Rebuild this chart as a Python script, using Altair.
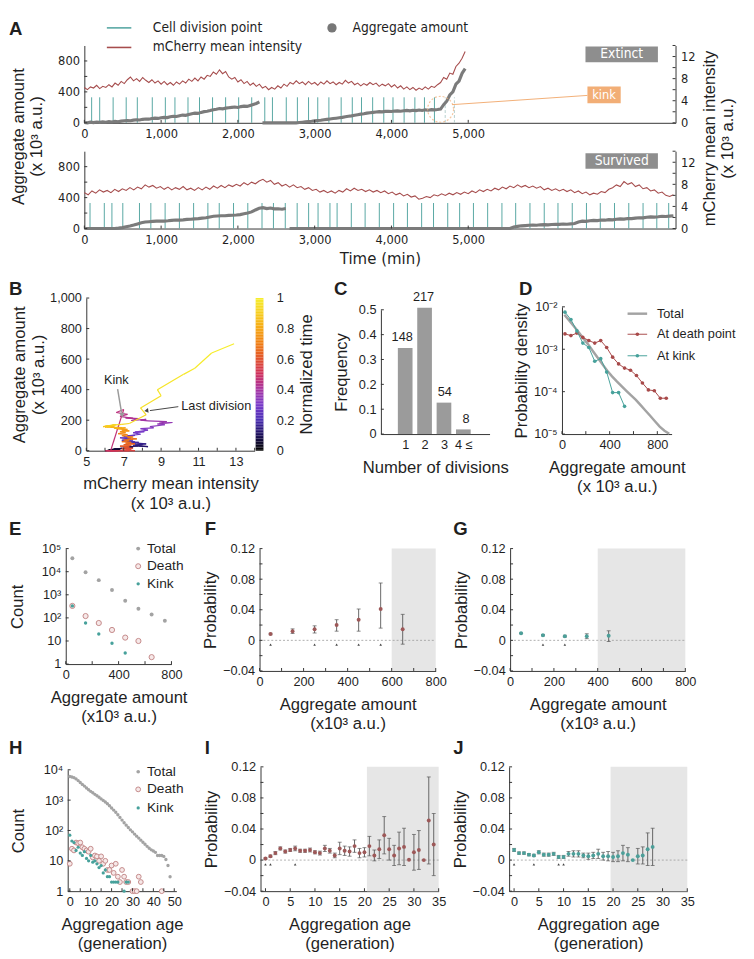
import altair as alt
import pandas as pd
import numpy as np

W, H = 754, 951
FONT = "Liberation Sans, Arial, Helvetica, sans-serif"
NARROW = "Liberation Sans Narrow, DejaVu Sans Condensed, Liberation Sans, Arial, sans-serif"
INK = "#1f1f1f"
AXC = "#333333"
TEAL = "#57a7a3"
RED = "#a64d4d"
AGG = "#7b7b7b"
DEATH = "#a84a4a"
KINK = "#47a19b"
TOTAL = "#a3a3a3"
PROB_RED = "#9d5858"
PROB_TEAL = "#4c9f99"
SHADE = "#e6e6e6"
ORANGE = "#f2ae76"

# ------------------------------------------------------------------ data: panel A
T_MAX = 7700          # right end of the time axis (min)
STEP_TOP = 40         # sampling interval, extinct lineage (min)
STEP_BOT = 49.5       # sampling interval, surviving lineage (min)
red_top = [6.4, 6.0, 6.5, 6.3, 6.8, 6.2, 6.6, 6.4, 6.9, 6.5,
           7.2, 6.8, 7.5, 7.1, 7.8, 8.3, 7.6, 8.0, 7.5, 8.2,
           7.7, 7.3, 7.8, 7.2, 7.6, 7.0, 7.5, 6.9, 7.3, 6.8,
           7.4, 7.0, 7.6, 7.2, 7.9, 7.5, 8.1, 7.6, 8.3, 7.9,
           8.6, 8.4, 9.2, 8.8, 9.6, 8.9, 9.3, 8.3, 7.9, 8.2,
           7.4, 7.8, 7.1, 7.5, 6.8, 7.2, 6.6, 7.0, 6.3, 6.6,
           6.0, 6.4, 6.1, 6.7, 6.3, 7.0, 6.6, 7.3, 7.0, 7.6,
           7.1, 7.4, 6.9, 7.5, 7.0, 7.3, 6.8, 7.4, 7.0, 7.6,
           7.1, 7.4, 6.9, 7.3, 7.0, 7.7, 7.2, 7.5, 6.9, 7.2,
           6.7, 7.1, 6.8, 7.3, 6.9, 7.2, 6.6, 7.0, 6.7, 7.1,
           6.5, 6.9, 6.3, 6.7, 6.1, 6.5, 6.0, 6.4, 5.9, 6.3,
           6.0, 6.5, 6.1, 6.6, 6.4, 6.9, 7.3, 8.2, 7.9, 9.0,
           8.8, 10.2, 10.8, 11.7, 12.9]
agg_top = [5, 0, 8, 3, 10, 6, 12, 8, 15, 11, 18, 14, 22, 26, 30,
           27, 35, 40, 36, 45, 50, 47, 55, 60, 57, 65, 70, 68, 78, 85,
           82, 92, 100, 97, 108, 118, 125, 122, 135, 145, 150, 158, 170, 175, 185,
           180, 190, 195, 200, 205, 198, 210, 215, 212, 225, 238, 250, 270,
           0, 0, 0, 0, 0, 0, 0, 0, 0, 0, 0, 0,
           4, 8, 12, 16, 20, 25, 30, 34, 40, 45, 50, 55, 60, 65, 70,
           78, 85, 90, 98, 105, 112, 118, 125, 130, 135, 140, 145, 142, 148, 150,
           146, 152, 155, 150, 156, 160, 155, 162, 158, 165, 160, 168, 163, 170, 168,
           172, 178, 235, 280, 360, 400, 500, 540, 640, 700]
red_bot = [6.5, 6.1, 6.8, 6.4, 7.0, 6.6, 6.9, 6.5, 7.1, 6.7,
           7.2, 6.9, 7.4, 7.0, 7.5, 7.2, 7.9, 7.5, 7.8, 7.3,
           7.6, 7.1, 7.5, 7.0, 7.4, 7.1, 7.6, 7.0, 7.3, 6.9,
           7.4, 7.0, 7.5, 7.1, 7.7, 7.3, 7.8, 7.4, 7.9, 7.6,
           8.0, 7.7, 8.3, 7.9, 8.4, 8.1, 8.6, 8.9, 8.4, 8.7,
           8.0, 8.3, 7.7, 8.0, 7.5, 7.9, 7.4, 7.6, 7.1, 7.4,
           6.9, 7.1, 6.6, 6.9, 6.5, 6.8, 6.4, 6.9, 6.6, 7.2,
           6.8, 7.3, 6.9, 7.1, 6.7, 7.0, 6.6, 6.9, 6.5, 6.8,
           6.3, 6.6, 6.1, 6.4, 5.9, 6.2, 5.7, 5.9, 5.3, 5.5,
           5.8, 5.6, 6.1, 5.9, 6.3, 6.0, 6.4, 6.1, 6.5, 6.2,
           6.6, 6.3, 6.8, 6.5, 7.0, 6.7, 7.1, 6.8, 7.3, 7.0,
           7.5, 7.2, 7.7, 7.4, 7.9, 7.5, 7.8, 7.4, 7.7, 7.3,
           7.6, 7.0, 7.3, 6.9, 7.2, 6.8, 7.1, 6.7, 7.0, 6.5,
           6.8, 6.3, 6.6, 6.1, 6.4, 6.2, 6.7, 6.5, 7.1, 7.4,
           7.9, 7.6, 8.5, 8.0, 8.3, 7.6, 7.9, 7.2, 7.4, 6.8,
           7.0, 6.4, 6.6, 6.0, 5.8, 6.1]
agg_bot = ([0, 0, 0, 0, 0, 0, 0, 0, 0,
            5, 12, 22, 32, 45, 60, 75, 85,
            88, 92, 95, 98, 96, 100, 106, 110, 108, 112, 118, 120, 125, 128, 135, 140,
            150, 158, 162, 165, 166, 170, 172, 175, 180, 190, 200, 215, 240, 262, 270, 258,
            265, 255, 255, 250, 258]
           + [0] * 59
           + [20, 28, 35, 38, 42, 45, 43, 48, 50, 47, 52, 55, 53, 58, 56, 60, 65,
              85, 95, 92, 100, 105, 103, 110, 108, 115, 112, 120, 125, 122, 130, 128,
              135, 140, 138, 145, 150, 148, 152, 158, 155, 160, 165])
div_top = [95, 200, 375, 545, 690, 885, 1055, 1180, 1350, 1500, 1670, 1840, 2010, 2180,
           2350, 2450, 2630, 2775, 2920, 3040, 3185, 3345, 3490, 3610, 3755, 3900, 4020,
           4165, 4305, 4430, 4560]
div_top_after_kink = [4700, 4820]
div_bot = [74, 260, 359, 501, 718, 866, 1052, 1238, 1423, 1609, 1757, 1943, 2129, 2314,
           2463, 2617, 2772, 2921, 3044, 3199, 3292, 3477, 3657, 3842, 4028, 4208, 4393,
           4548, 4733, 4888, 5068, 5253, 5439, 5618, 5804, 5990, 6169, 6355, 6540, 6720,
           6905, 7091, 7277, 7456, 7611]
kink_time, kink_amount = 4640, 175

# ------------------------------------------------------------------ data: C, D
div_classes = [1, 2, 3, 4]
div_counts = [148, 217, 54, 8]

d_total_x = [20, 60, 100, 140, 180, 220, 260, 300, 340, 380, 420, 460, 500, 540, 580, 620,
             660, 700, 740, 780, 820, 860, 900]
d_total_y = [6.5e-3, 4.8e-3, 3.5e-3, 2.5e-3, 1.8e-3, 1.3e-3, 9e-4, 6.3e-4, 4.4e-4, 3.1e-4,
             2.3e-4, 1.75e-4, 1.35e-4, 1.05e-4, 8.2e-5, 6.4e-5, 4.8e-5, 3.6e-5, 2.7e-5,
             2.0e-5, 1.5e-5, 1.2e-5, 1.02e-5]
d_death_x = [25, 75, 125, 175, 225, 275, 325, 375, 425, 475, 525, 575, 625, 675, 725, 775,
             825, 875]
d_death_y = [2.3e-3, 2.1e-3, 2.4e-3, 1.9e-3, 1.6e-3, 1.4e-3, 1.6e-3, 1.1e-3, 6.5e-4, 4.5e-4,
             3.6e-4, 3.2e-4, 2.4e-4, 1.6e-4, 1.1e-4, 1.05e-4, 7e-5, 7e-5]
d_kink_x = [25, 75, 125, 175, 225, 275, 325, 375, 425, 475, 525]
d_kink_y = [7.5e-3, 5e-3, 2.7e-3, 1.4e-3, 1.1e-3, 5.2e-4, 6e-4, 2.9e-4, 9.5e-5, 9.5e-5, 4.5e-5]

# ------------------------------------------------------------------ data: E, F, G
e_x = [50, 150, 250, 350, 450, 550, 650, 750]
e_total = [3.8e4, 9.5e3, 4.3e3, 1.6e3, 550, 250, 140, 75]
e_death = [330, 120, 60, 30, 14, 10, 2]
e_kink = [330, 60, 20, 8, 3]

f_x = [50, 150, 250, 350, 450, 550, 650]
f_mean = [0.0083, 0.012, 0.0146, 0.020, 0.027, 0.041, 0.0146]
f_lo = [0.0073, 0.009, 0.0096, 0.012, 0.012, 0.016, -0.005]
f_hi = [0.0093, 0.015, 0.019, 0.027, 0.041, 0.075, 0.034]
f_tri = [50, 250, 350, 450, 550]

g_x = [50, 150, 250, 350, 450]
g_mean = [0.0092, 0.0067, 0.0054, 0.0054, 0.006]
g_lo = [0.0086, 0.0058, 0.0042, 0.0022, -0.0015]
g_hi = [0.0098, 0.0076, 0.0066, 0.0086, 0.0125]
g_tri = [150, 250]

# ------------------------------------------------------------------ data: H, I, J
h_total = [6000, 5800, 5500, 5000, 4400, 3800, 3300, 2900, 2500, 2200,
           1950, 1750, 1550, 1400, 1250, 1100, 980, 870, 760, 650,
           550, 470, 400, 330, 270, 220, 180, 150, 125, 105,
           90, 76, 65, 56, 48, 41, 35, 30, 26, 23,
           21, 19, 15, 15, 15, 14, 11, 7, 3]
h_death_gen = [0, 1, 2, 3, 4, 5, 6, 7, 8, 9, 10, 11, 12, 13, 14, 15, 16, 17, 18, 19, 20, 21,
               22, 23, 24, 25, 26, 27, 28, 30, 31, 32, 33, 34, 44]
h_death = [8, 25, 22, 40, 38, 40, 28, 25, 22, 20, 25, 13, 15, 14, 10, 14, 8, 10, 5, 5, 7, 4,
           8, 3, 2, 5, 3, 2, 2, 1, 1, 1, 3, 2, 1]
h_kink_gen = [0, 1, 2, 3, 4, 5, 6, 7, 8, 9, 10, 11, 12, 13, 14, 15, 16, 17, 18, 19, 20, 21,
              22, 23, 26, 27, 28]
h_kink = [70, 45, 40, 22, 28, 18, 15, 20, 12, 10, 15, 9, 10, 8, 6, 7, 4, 5, 3, 3, 2, 2, 2, 2,
          1, 2, 2]

i_mean = [0.002, 0.005, 0.009, 0.015, 0.011, 0.013, 0.015, 0.012, 0.012, 0.013,
          0.010, 0.009, 0.015, 0.012, 0.006, 0.015, 0.012, 0.011, 0.018, 0.009,
          0.010, 0.018, 0.006, 0.014, 0.032, 0.014, 0.006, 0.015, 0.017, 0.0005,
          0.010, 0.013, 0.0, 0.051, 0.020]
i_err = [0.001, 0.0015, 0.002, 0.002, 0.002, 0.002, 0.003, 0.002, 0.002, 0.0025,
         0.002, 0.0025, 0.004, 0.003, 0.003, 0.008, 0.006, 0.006, 0.008, 0.006,
         0.006, 0.0125, 0.007, 0.012, 0.024, 0.014, 0.013, 0.021, 0.024, 0.0,
         0.023, 0.025, 0.0, 0.056, 0.04]
i_tri = [0, 1, 6]
j_mean = [0.013, 0.009, 0.009, 0.007, 0.006, 0.010, 0.007, 0.007, 0.008, 0.004,
          0.004, 0.008, 0.008, 0.008, 0.006, 0.005, 0.006, 0.008, 0.005, 0.005,
          0.004, 0.005, 0.009, 0.007, 0.0, 0.005, 0.006, 0.014, 0.017]
j_err = [0.002, 0.0015, 0.0015, 0.0015, 0.0015, 0.002, 0.002, 0.002, 0.002, 0.002,
         0.002, 0.003, 0.004, 0.004, 0.003, 0.004, 0.004, 0.006, 0.005, 0.006,
         0.006, 0.007, 0.01, 0.009, 0.0, 0.01, 0.011, 0.021, 0.024]
j_tri = [0, 4, 9, 10]

# ------------------------------------------------------------------ helpers
dummy = pd.DataFrame({"a": [0]})


def lin(domain, rng):
    return alt.Scale(domain=domain, range=rng, nice=False, zero=False)


def logsc(domain, rng):
    return alt.Scale(type="log", domain=domain, range=rng, nice=False)


def _axis(orient, offset, values, labelExpr, title=None, font=FONT, size=13,
          tpad=8, tsize=17, tfont=FONT, **extra):
    kw = dict(orient=orient, offset=offset, values=values, labelFont=font, labelFontSize=size,
              titleFont=tfont, titleFontSize=tsize, titlePadding=tpad, titleLineHeight=20,
              title=title, labelExpr=labelExpr)
    kw.update(extra)
    return alt.Axis(**kw)


def ax_bottom(b, values, labelExpr, **kw):
    return _axis("bottom", b - H, values, labelExpr, **kw)


def ax_left(l, values, labelExpr, **kw):
    return _axis("left", -l, values, labelExpr, **kw)


def ax_right(r, values, labelExpr, **kw):
    return _axis("right", r - W, values, labelExpr, **kw)


def every(step, fmt="d"):
    return f"abs(round(datum.value)) % {step} == 0 ? format(datum.value, '{fmt}') : ''"


def ticks_y(xpx, ysc, values, direction=1, length=3):
    """inward tick marks of a vertical axis placed at pixel xpx"""
    df = pd.DataFrame({"v": values})
    return alt.Chart(df).mark_rule(color=AXC, strokeWidth=1).encode(
        y=alt.Y("v:Q", scale=ysc, axis=None), x=alt.value(xpx),
        x2=alt.value(xpx + direction * length))


def ticks_x(ypx, xsc, values, length=3):
    """inward tick marks of a horizontal axis placed at pixel ypx"""
    df = pd.DataFrame({"v": values})
    return alt.Chart(df).mark_rule(color=AXC, strokeWidth=1).encode(
        x=alt.X("v:Q", scale=xsc, axis=None), y=alt.value(ypx), y2=alt.value(ypx - length))


def label(txt, x, y, size=13, font=FONT, weight="normal", align="left", baseline="middle",
          color=INK, angle=0):
    return alt.Chart(dummy).mark_text(text=txt, fontSize=size, font=font, fontWeight=weight,
                                      align=align, baseline=baseline, color=color,
                                      angle=angle).encode(x=alt.value(x), y=alt.value(y))


def prule(x1, y1, x2, y2, color, width=1.0, dash=None):
    kw = dict(color=color, strokeWidth=width)
    if dash:
        kw["strokeDash"] = dash
    return alt.Chart(dummy).mark_rule(**kw).encode(x=alt.value(x1), y=alt.value(y1),
                                                   x2=alt.value(x2), y2=alt.value(y2))


def prect(x1, y1, x2, y2, fill):
    return alt.Chart(dummy).mark_rect(fill=fill).encode(x=alt.value(x1), x2=alt.value(x2),
                                                        y=alt.value(y1), y2=alt.value(y2))


def ppoint(x, y, shape="circle", size=20, fill=None, stroke=None, sw=1.0, angle=0):
    kw = dict(shape=shape, size=size, angle=angle, opacity=1, strokeWidth=sw)
    if fill:
        kw["fill"] = fill
        kw["filled"] = True
    else:
        kw["filled"] = False
    if stroke:
        kw["stroke"] = stroke
    return alt.Chart(dummy).mark_point(**kw).encode(x=alt.value(x), y=alt.value(y))


LOG_LABELS = "['1','10','10²','10³','10⁴','10⁵'][round(log(datum.value)/LN10)]"
NEG_LOG_LABELS = "['10⁻⁵','10⁻⁴','10⁻³','10⁻²'][round(log(datum.value)/LN10)+5]"
PROB_LABELS = ("abs(round(datum.value*100)) % 4 == 0 ? "
               "(datum.value == 0 ? '0' : format(datum.value, '.2f')) : ''")
PROB_VALUES = [-0.04, -0.02, 0, 0.02, 0.04, 0.06, 0.08, 0.1, 0.12]

# ------------------------------------------------------------------ panel A


def seg_ids(vals):
    s, out = 0, []
    for i, v in enumerate(vals):
        if i > 0 and v == 0 and vals[i - 1] > 100:
            s += 1
        out.append(s)
    return out


def panel_A(red, agg, step, divs, faint, top, bottom, xtitle, with_kink):
    t = [i * step for i in range(len(red))]
    xsc = lin([0, T_MAX], [78, 682])
    yl = lin([0, 1000], [bottom, top])
    yr = lin([0, 14], [bottom, top])
    df_agg = pd.DataFrame({"t": t, "v": agg, "seg": seg_ids(agg)})
    df_red = pd.DataFrame({"t": t, "v": red})
    df_div = pd.DataFrame({"t": divs, "lo": [0] * len(divs), "hi": [330] * len(divs)})
    xvals = [0, 1000, 2000, 3000, 4000, 5000]
    xaxis = ax_bottom(bottom, xvals, "format(datum.value, ',')",
                      font=NARROW, size=13, title=xtitle, tfont=NARROW, tsize=17, tpad=5)
    yvals = [0, 200, 400, 600, 800]
    yaxis = ax_left(78, yvals, every(400), font=NARROW, size=13)
    rvals = list(range(0, 15, 2))
    out = [alt.Chart(df_div).mark_rule(color=TEAL, strokeWidth=1).encode(
        x=alt.X("t:Q", scale=xsc, axis=xaxis), y=alt.Y("lo:Q", scale=yl, axis=yaxis), y2="hi:Q")]
    if faint:
        df_f = pd.DataFrame({"t": faint, "lo": [0] * len(faint), "hi": [330] * len(faint)})
        out.append(alt.Chart(df_f).mark_rule(color="#b5cfce", strokeWidth=1,
                                              strokeDash=[3, 2]).encode(
            x=alt.X("t:Q", scale=xsc, axis=None), y=alt.Y("lo:Q", scale=yl, axis=None), y2="hi:Q"))
    out.append(alt.Chart(df_agg).mark_line(color=AGG, strokeWidth=3.2).encode(
        x=alt.X("t:Q", scale=xsc, axis=None), y=alt.Y("v:Q", scale=yl, axis=None),
        detail="seg:N"))
    if with_kink:
        df_k = pd.DataFrame({"t": [kink_time], "v": [kink_amount]})
        out.append(alt.Chart(df_k).mark_point(shape="circle", size=700, filled=False,
                                               stroke=ORANGE, strokeWidth=1.2,
                                               strokeDash=[2, 2]).encode(
            x=alt.X("t:Q", scale=xsc, axis=None), y=alt.Y("v:Q", scale=yl, axis=None)))
        df_c = pd.DataFrame({"t": [kink_time + 150], "v": [kink_amount + 60]})
        out.append(alt.Chart(df_c).mark_rule(color=ORANGE, strokeWidth=1).encode(
            x=alt.X("t:Q", scale=xsc, axis=None), y=alt.Y("v:Q", scale=yl, axis=None),
            x2=alt.value(592), y2=alt.value(79)))
    out.append(alt.Chart(df_red).mark_line(color=RED, strokeWidth=1.1).encode(
        x=alt.X("t:Q", scale=xsc, axis=None),
        y=alt.Y("v:Q", scale=yr, axis=ax_right(682, rvals, every(4), font=NARROW, size=13))))
    out += [ticks_x(bottom, xsc, xvals), ticks_y(78, yl, yvals), ticks_y(682, yr, rvals, -1)]
    return out


A_top = panel_A(red_top, agg_top, STEP_TOP, div_top, div_top_after_kink, 28, 107, None, True)
A_bot = panel_A(red_bot, agg_bot, STEP_BOT, div_bot, None, 136, 215, "Time (min)", False)

# ------------------------------------------------------------------ panel B
CMAP = alt.Scale(domain=[0, 0.1, 0.2, 0.3, 0.4, 0.5, 0.6, 0.7, 0.8, 0.9, 1.0],
                 range=["#000000", "#1c0f5a", "#4a2db5", "#7b3bc9", "#a8349f", "#cf2f5c",
                        "#e2532a", "#f07e12", "#f6a915", "#f7cf1f", "#f6f02c"],
                 interpolate="rgb")
t_top = [i * STEP_TOP for i in range(len(red_top))]
t_end = t_top[-1]
df_traj = pd.DataFrame({"x": red_top[:-1], "y": agg_top[:-1], "x2": red_top[1:],
                        "y2": agg_top[1:], "c": [v / t_end for v in t_top[:-1]]})
bx = lin([5, 14], [80, 252])
by = lin([0, 1000], [442, 286])
b_xvals = list(range(5, 15))
b_yvals = [0, 200, 400, 600, 800, 1000]
B = [alt.Chart(df_traj).mark_rule(strokeWidth=1.2).encode(
    x=alt.X("x:Q", scale=bx, axis=ax_bottom(442, b_xvals,
                                           "datum.value % 2 == 1 && datum.value < 14 ? format(datum.value, 'd') : ''",
                                           title=["mCherry mean intensity", "(x 10³ a.u.)"])),
    y=alt.Y("y:Q", scale=by, axis=ax_left(80, b_yvals, "format(datum.value, ',')",
                                         title=["Aggregate amount", "(x 10³ a.u.)"], tpad=2)),
    x2="x2:Q", y2="y2:Q",
    color=alt.Color("c:Q", scale=CMAP, legend=None)),
    ticks_x(442, bx, b_xvals), ticks_y(80, by, b_yvals)]

cb_vals = [round(i * 0.01, 2) for i in range(100)]
df_cb = pd.DataFrame({"v": cb_vals, "v2": [v + 0.0101 for v in cb_vals]})
CB = [alt.Chart(df_cb).mark_rect().encode(
    x=alt.value(253), x2=alt.value(261),
    y=alt.Y("v:Q", scale=lin([0, 1], [442, 286]),
            axis=ax_right(261, [0, 0.2, 0.4, 0.6, 0.8, 1.0],
                          "datum.value == 0 ? '0' : datum.value == 1 ? '1' : format(datum.value, '.1f')",
                          labelPadding=10, domain=False)),
    y2="v2:Q",
    color=alt.Color("v:Q", scale=CMAP, legend=None))]

# ------------------------------------------------------------------ panel C
total_div = sum(div_counts)
df_c = pd.DataFrame({"n": div_classes, "count": div_counts,
                     "f": [c / total_div for c in div_counts]})
cx = lin([0, 5.1], [381, 492])
cy = lin([0, 0.5], [425, 298])
c_yvals = [0, 0.1, 0.2, 0.3, 0.4, 0.5]
C = [
    alt.Chart(df_c).mark_bar(size=15, color="#9b9b9b").encode(
        x=alt.X("n:Q", scale=cx, axis=ax_bottom(425, div_classes,
                                               "datum.value == 4 ? '4 ≤' : format(datum.value, 'd')",
                                               title="Number of divisions")),
        y=alt.Y("f:Q", scale=cy, axis=ax_left(381, c_yvals,
                                             "datum.value == 0 ? '0' : format(datum.value, '.1f')",
                                             title="Frequency", tpad=8))),
    alt.Chart(df_c).mark_text(dy=-4, baseline="bottom", fontSize=13, font=FONT, color=INK).encode(
        x=alt.X("n:Q", scale=cx, axis=None), y=alt.Y("f:Q", scale=cy, axis=None),
        text="count:Q"),
    ticks_y(381, cy, c_yvals),
]

# ------------------------------------------------------------------ panel D
dx = lin([0, 920], [566, 678])
dy = logsc([1e-5, 1e-2], [425, 295])
d_xvals = [0, 200, 400, 600, 800]
d_yvals = [1e-5, 1e-4, 1e-3, 1e-2]
df_dt = pd.DataFrame({"x": d_total_x, "y": d_total_y})
df_dd = pd.DataFrame({"x": d_death_x, "y": d_death_y})
df_dk = pd.DataFrame({"x": d_kink_x, "y": d_kink_y})
D = [
    alt.Chart(df_dt).mark_line(color=TOTAL, strokeWidth=2.5).encode(
        x=alt.X("x:Q", scale=dx, axis=ax_bottom(425, d_xvals, every(400),
                                               title=["Aggregate amount", "(x 10³ a.u.)"])),
        y=alt.Y("y:Q", scale=dy, axis=ax_left(566, d_yvals, NEG_LOG_LABELS,
                                             title="Probability density", tpad=3))),
    alt.Chart(df_dd).mark_line(color=DEATH, strokeWidth=1, point=alt.OverlayMarkDef(
        color=DEATH, size=14, filled=True)).encode(
        x=alt.X("x:Q", scale=dx, axis=None), y=alt.Y("y:Q", scale=dy, axis=None)),
    alt.Chart(df_dk).mark_line(color=KINK, strokeWidth=1, point=alt.OverlayMarkDef(
        color=KINK, size=14, filled=True)).encode(
        x=alt.X("x:Q", scale=dx, axis=None), y=alt.Y("y:Q", scale=dy, axis=None)),
    ticks_x(425, dx, d_xvals), ticks_y(566, dy, d_yvals),
]

# ------------------------------------------------------------------ panel E
ex = lin([0, 800], [59, 167])
ey = logsc([1, 1e5], [660, 542])
e_xvals = [0, 200, 400, 600, 800]
e_yvals = [1, 10, 100, 1e3, 1e4, 1e5]
df_et = pd.DataFrame({"x": e_x, "y": e_total})
df_ed = pd.DataFrame({"x": e_x[:len(e_death)], "y": e_death})
df_ek = pd.DataFrame({"x": e_x[:len(e_kink)], "y": e_kink})
E = [
    alt.Chart(df_et).mark_circle(size=16, color=TOTAL, opacity=1).encode(
        x=alt.X("x:Q", scale=ex, axis=ax_bottom(660, e_xvals, every(400),
                                               title=["Aggregate amount", "(x10³ a.u.)"])),
        y=alt.Y("y:Q", scale=ey, axis=ax_left(59, e_yvals, LOG_LABELS,
                                             title="Count", tpad=15))),
    alt.Chart(df_ed).mark_circle(size=28, fill="#f6e8e8", stroke="#c48989", strokeWidth=1,
                                 opacity=1).encode(
        x=alt.X("x:Q", scale=ex, axis=None), y=alt.Y("y:Q", scale=ey, axis=None)),
    alt.Chart(df_ek).mark_circle(size=12, color=KINK, opacity=1).encode(
        x=alt.X("x:Q", scale=ex, axis=None), y=alt.Y("y:Q", scale=ey, axis=None)),
    ticks_x(660, ex, e_xvals), ticks_y(59, ey, e_yvals),
]

# ------------------------------------------------------------------ probability panels


def prob_panel(xr, yr, xdom, xvals, xlabels, xtitle, xs_, mean, lo, hi, tri, color, shade_from,
               bottom):
    xsc = lin(xdom, xr)
    ysc = lin([-0.04, 0.12], yr)
    df_s = pd.DataFrame({"x0": [shade_from], "x1": [xdom[1]], "y0": [-0.04], "y1": [0.12]})
    df_z = pd.DataFrame({"x0": [xdom[0]], "x1": [xdom[1]], "y": [0.0]})
    df = pd.DataFrame({"x": xs_, "m": mean, "lo": lo, "hi": hi})
    dfe = df[df["hi"] - df["lo"] > 1e-6]
    caps = pd.DataFrame({"x": list(dfe["x"]) * 2, "y": list(dfe["lo"]) + list(dfe["hi"])})
    df_t = pd.DataFrame({"x": tri, "y": [-0.0055] * len(tri)})
    return [
        alt.Chart(df_s).mark_rect(fill=SHADE).encode(
            x=alt.X("x0:Q", scale=xsc, axis=ax_bottom(bottom, xvals, xlabels, title=xtitle)),
            x2="x1:Q",
            y=alt.Y("y0:Q", scale=ysc, axis=ax_left(xr[0], PROB_VALUES, PROB_LABELS,
                                                   title="Probability", tpad=3)),
            y2="y1:Q"),
        alt.Chart(df_z).mark_rule(color="#9a9a9a", strokeWidth=0.8, strokeDash=[2, 2]).encode(
            x=alt.X("x0:Q", scale=xsc, axis=None), x2="x1:Q",
            y=alt.Y("y:Q", scale=ysc, axis=None)),
        alt.Chart(dfe).mark_rule(color="#555555", strokeWidth=0.9).encode(
            x=alt.X("x:Q", scale=xsc, axis=None), y=alt.Y("lo:Q", scale=ysc, axis=None),
            y2="hi:Q"),
        alt.Chart(caps).mark_tick(orient="horizontal", size=4, thickness=1, color="#555555").encode(
            x=alt.X("x:Q", scale=xsc, axis=None), y=alt.Y("y:Q", scale=ysc, axis=None)),
        alt.Chart(df).mark_circle(size=16, color=color, opacity=1).encode(
            x=alt.X("x:Q", scale=xsc, axis=None), y=alt.Y("m:Q", scale=ysc, axis=None)),
        alt.Chart(df_t).mark_point(shape="triangle-up", size=7, filled=True, color="#444444",
                                   opacity=1).encode(
            x=alt.X("x:Q", scale=xsc, axis=None), y=alt.Y("y:Q", scale=ysc, axis=None)),
        ticks_x(bottom, xsc, xvals), ticks_y(xr[0], ysc, PROB_VALUES),
    ]


AGG_X_VALUES = [0, 100, 200, 300, 400, 500, 600, 700, 800]
F = prob_panel([257, 437], [667, 542], [0, 800], AGG_X_VALUES, every(200),
               ["Aggregate amount", "(x10³ a.u.)"], f_x, f_mean, f_lo, f_hi, f_tri, PROB_RED, 600, 667)
G = prob_panel([513, 692], [667, 542], [0, 800], AGG_X_VALUES, every(200),
               ["Aggregate amount", "(x10³ a.u.)"], g_x, g_mean, g_lo, g_hi, g_tri, PROB_TEAL, 400, 667)

gen_i = list(range(len(i_mean)))
gen_j = list(range(len(j_mean)))
GEN_VALUES = [0, 5, 10, 15, 20, 25, 30, 35]
I = prob_panel([258, 440], [892, 765], [-1, 35], GEN_VALUES, "format(datum.value, 'd')",
               ["Aggregation age", "(generation)"], gen_i, i_mean,
               [m - e for m, e in zip(i_mean, i_err)], [m + e for m, e in zip(i_mean, i_err)],
               i_tri, PROB_RED, 20.5, 892)
J = prob_panel([512, 694], [892, 765], [-1, 35], GEN_VALUES, "format(datum.value, 'd')",
               ["Aggregation age", "(generation)"], gen_j, j_mean,
               [m - e for m, e in zip(j_mean, j_err)], [m + e for m, e in zip(j_mean, j_err)],
               j_tri, PROB_TEAL, 19.5, 892)

# ------------------------------------------------------------------ panel H
hx = lin([-1, 51], [61, 172])
hy = logsc([1, 1e4], [892, 768])
h_xvals = list(range(0, 51, 5))
h_yvals = [1, 10, 100, 1e3, 1e4]
df_ht = pd.DataFrame({"x": list(range(len(h_total))), "y": h_total})
df_hd = pd.DataFrame({"x": h_death_gen, "y": h_death})
df_hk = pd.DataFrame({"x": h_kink_gen, "y": h_kink})
Hp = [
    alt.Chart(df_ht).mark_circle(size=12, color=TOTAL, opacity=1).encode(
        x=alt.X("x:Q", scale=hx, axis=ax_bottom(892, h_xvals, every(10),
                                               title=["Aggregation age", "(generation)"])),
        y=alt.Y("y:Q", scale=hy, axis=ax_left(61, h_yvals, LOG_LABELS,
                                             title="Count", tpad=16))),
    alt.Chart(df_hd).mark_circle(size=24, fill="#f6e8e8", stroke="#c48989", strokeWidth=1,
                                 opacity=1).encode(
        x=alt.X("x:Q", scale=hx, axis=None), y=alt.Y("y:Q", scale=hy, axis=None)),
    alt.Chart(df_hk).mark_circle(size=11, color=KINK, opacity=1).encode(
        x=alt.X("x:Q", scale=hx, axis=None), y=alt.Y("y:Q", scale=hy, axis=None)),
    ticks_x(892, hx, h_xvals), ticks_y(61, hy, h_yvals),
]

# ------------------------------------------------------------------ annotations
ann = [
    label("A", 1, 11, size=19, weight="bold"),
    label("B", 1, 277, size=19, weight="bold"),
    label("C", 333, 277, size=19, weight="bold"),
    label("D", 522, 277, size=19, weight="bold"),
    label("E", 1, 522, size=19, weight="bold"),
    label("F", 201, 522, size=19, weight="bold"),
    label("G", 455, 522, size=19, weight="bold"),
    label("H", 1, 746, size=19, weight="bold"),
    label("I", 201, 746, size=19, weight="bold"),
    label("J", 455, 746, size=19, weight="bold"),
    prule(101, 10, 126, 10, TEAL, 1.6),
    label("Cell division point", 148, 10, size=14, font=NARROW),
    prule(101, 30, 126, 30, RED, 1.6),
    label("mCherry mean intensity", 148, 30, size=14, font=NARROW),
    ppoint(331, 10, size=90, fill="#777777"),
    label("Aggregate amount", 352, 10, size=14, font=NARROW),
    prect(590, 29, 664, 45, "#8e8e8e"),
    label("Extinct", 627, 37, size=14, font=NARROW, align="center", color="white"),
    prect(590, 138, 664, 154, "#8e8e8e"),
    label("Survived", 627, 146, size=14, font=NARROW, align="center", color="white"),
    prect(592, 70, 626, 87, ORANGE),
    label("kink", 609, 78.5, size=13, font=NARROW, align="center", color="white"),
    label("Aggregate amount", 11, 121, size=17, align="center", angle=270),
    label("(x 10³ a.u.)", 30, 121, size=17, align="center", angle=270),
    label("mCherry mean intensity", 717, 123, size=17, align="center", angle=270),
    label("(x 10³ a.u.)", 736, 123, size=17, align="center", angle=270),
    label("Kink", 98, 370, size=13),
    prule(112, 379, 116, 403, "#9a9a9a", 1.5),
    ppoint(116.5, 405, shape="triangle", size=30, fill="#9a9a9a", angle=172),
    label("Last division", 177, 396, size=13),
    prule(174, 397, 145, 401, "#444444", 1),
    ppoint(142, 401, shape="triangle", size=22, fill="#444444", angle=262),
    label("Normalized time", 306, 364, size=17, align="center", angle=270),
    prule(633, 302, 653, 302, TOTAL, 2.5),
    label("Total", 663, 302, size=13),
    prule(633, 323, 653, 323, DEATH, 1),
    ppoint(643, 323, size=14, fill=DEATH),
    label("At death point", 663, 323, size=13),
    prule(633, 345, 653, 345, KINK, 1),
    ppoint(643, 345, size=14, fill=KINK),
    label("At kink", 663, 345, size=13),
    ppoint(133, 542, size=16, fill=TOTAL),
    label("Total", 142, 542, size=14),
    ppoint(133, 560, size=26, fill="#f6e8e8", stroke="#c48989"),
    label("Death", 142, 560, size=14),
    ppoint(133, 578, size=12, fill=KINK),
    label("Kink", 142, 578, size=14),
    ppoint(133, 770, size=14, fill=TOTAL),
    label("Total", 142, 770, size=14),
    ppoint(133, 788, size=24, fill="#f6e8e8", stroke="#c48989"),
    label("Death", 142, 788, size=14),
    ppoint(133, 807, size=11, fill=KINK),
    label("Kink", 142, 807, size=14),
]

units = A_top + A_bot + B + CB + C + D + E + F + G + Hp + I + J + ann
chart = alt.layer(*units).resolve_scale(
    x="independent", y="independent", color="independent"
).properties(
    width=W, height=H, autosize=alt.AutoSizeParams(type="none"), padding=0
).configure_view(stroke=None).configure_axis(
    grid=False, labelFlush=False, labelOverlap=False, domainColor=AXC, tickColor=AXC,
    tickOpacity=0, labelColor=INK, titleColor=INK, titleFontWeight="normal", tickSize=3,
    domainWidth=1, tickWidth=1, labelPadding=2
)

chart.save("out.html", embed_options={"renderer": "svg", "actions": False})
